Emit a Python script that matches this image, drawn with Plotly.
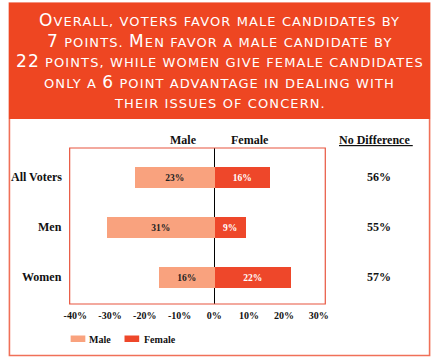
import plotly.graph_objects as go

categories = ["All Voters", "Men", "Women"]
male = [23, 31, 16]
female = [16, 9, 22]
no_diff = ["56%", "55%", "57%"]
tick_vals = [-40, -30, -20, -10, 0, 10, 20, 30]
tick_text = ["-40%", "-30%", "-20%", "-10%", "0%", "10%", "20%", "30%"]

W, H = 437, 358
def px(x): return x / W
def py(y): return 1 - y / H

MALE_C = "#F9A27E"
FEMALE_C = "#EE472A"
HEAD_C = "#EE4622"
SERIF = "Liberation Serif"

ypos = list(range(len(categories)))

fig = go.Figure()
fig.add_trace(go.Bar(
    y=ypos, x=[-v for v in male], orientation="h", name="Male",
    marker=dict(color=MALE_C, line=dict(width=0)), width=0.42,
    text=[f"{v}%" for v in male], textposition="inside", insidetextanchor="middle",
    textfont=dict(family=SERIF, size=9.5, color="#222222", weight="bold"),
    hoverinfo="skip", showlegend=False))
fig.add_trace(go.Bar(
    y=ypos, x=female, orientation="h", name="Female",
    marker=dict(color=FEMALE_C, line=dict(width=0)), width=0.42,
    text=[f"{v}%" for v in female], textposition="inside", insidetextanchor="middle",
    textfont=dict(family=SERIF, size=9.5, color="white", weight="bold"),
    hoverinfo="skip", showlegend=False))

fig.update_layout(
    width=W, height=H, margin=dict(l=0, r=0, t=0, b=0),
    paper_bgcolor="white", plot_bgcolor="white",
    barmode="relative", bargap=0,
    xaxis=dict(domain=[px(65), px(326)], range=[-41.6, 31.9],
               tickvals=tick_vals, ticktext=tick_text, showgrid=False,
               zeroline=True, zerolinecolor="black", zerolinewidth=1.2,
               showline=False, ticks="", ticklabelstandoff=4,
               tickfont=dict(family=SERIF, size=10, color="#111111", weight="bold")),
    yaxis=dict(domain=[py(304), py(148)], range=[2.54, -0.58],
               showticklabels=False, showgrid=False, zeroline=False, ticks=""),
    font=dict(family=SERIF),
)

shapes = []
# outer frame
shapes.append(dict(type="rect", xref="paper", yref="paper", x0=px(3.5), x1=px(432.5),
                   y0=py(355.5), y1=py(3), line=dict(color="#F07058", width=1.6), fillcolor="white", layer="below"))
# header
shapes.append(dict(type="rect", xref="paper", yref="paper", x0=px(3), x1=px(433),
                   y0=py(119), y1=py(3), line=dict(width=0), fillcolor=HEAD_C, layer="below"))
# plot frame
shapes.append(dict(type="rect", xref="paper", yref="paper", x0=px(65), x1=px(326),
                   y0=py(304), y1=py(148), line=dict(color="#E8553F", width=1.2), layer="above"))
# legend swatches
shapes.append(dict(type="rect", xref="paper", yref="paper", x0=px(66), x1=px(81),
                   y0=py(342), y1=py(335.5), line=dict(width=0), fillcolor=MALE_C))
shapes.append(dict(type="rect", xref="paper", yref="paper", x0=px(121), x1=px(136),
                   y0=py(342), y1=py(335.5), line=dict(width=0), fillcolor=FEMALE_C))
fig.update_layout(shapes=shapes)

ann = []
def big(s): return f'<span style="font-size:17px">{s}</span>'
def spaced(s): return f'<span style="letter-spacing:1.1px">{s}</span>'
head_lines = [
    big("O") + "VERALL, VOTERS FAVOR MALE CANDIDATES BY",
    big("7") + " POINTS. " + big("M") + "EN FAVOR A MALE CANDIDATE BY",
    big("22") + " POINTS, WHILE WOMEN GIVE FEMALE CANDIDATES",
    "ONLY A " + big("6") + " POINT ADVANTAGE IN DEALING WITH",
    "THEIR ISSUES OF CONCERN.",
]
head_y = [20, 41, 61, 82, 103]
for t, y in zip(head_lines, head_y):
    ann.append(dict(xref="paper", yref="paper", x=px(218), y=py(y), text=spaced(t), showarrow=False,
                    xanchor="center", yanchor="middle",
                    font=dict(family="DejaVu Sans", size=13, color="white")))

hdr_font = dict(family=SERIF, size=12, color="#111111", weight="bold")
ann.append(dict(xref="paper", yref="paper", x=px(181), y=py(140), text="Male", showarrow=False,
                xanchor="center", yanchor="middle", font=hdr_font))
ann.append(dict(xref="paper", yref="paper", x=px(249), y=py(140), text="Female", showarrow=False,
                xanchor="center", yanchor="middle", font=hdr_font))
ann.append(dict(xref="paper", yref="paper", x=px(378), y=py(140), text="<u>No Difference </u>", showarrow=False,
                xanchor="center", yanchor="middle", font=hdr_font))

for i, (c, nd) in enumerate(zip(categories, no_diff)):
    ann.append(dict(xref="paper", yref="y", x=px(59), y=i, text=c, showarrow=False,
                    xanchor="right", yanchor="middle", font=hdr_font))
    ann.append(dict(xref="paper", yref="y", x=px(381), y=i, text=nd, showarrow=False,
                    xanchor="center", yanchor="middle", font=hdr_font))

leg_font = dict(family=SERIF, size=10, color="#111111", weight="bold")
ann.append(dict(xref="paper", yref="paper", x=px(83), y=py(339), text="Male", showarrow=False,
                xanchor="left", yanchor="middle", font=leg_font))
ann.append(dict(xref="paper", yref="paper", x=px(139), y=py(339), text="Female", showarrow=False,
                xanchor="left", yanchor="middle", font=leg_font))
fig.update_layout(annotations=ann)

fig.write_html("out.html", config={"displayModeBar": False},
               post_script="document.body.style.margin='0';document.body.style.overflow='hidden';")
